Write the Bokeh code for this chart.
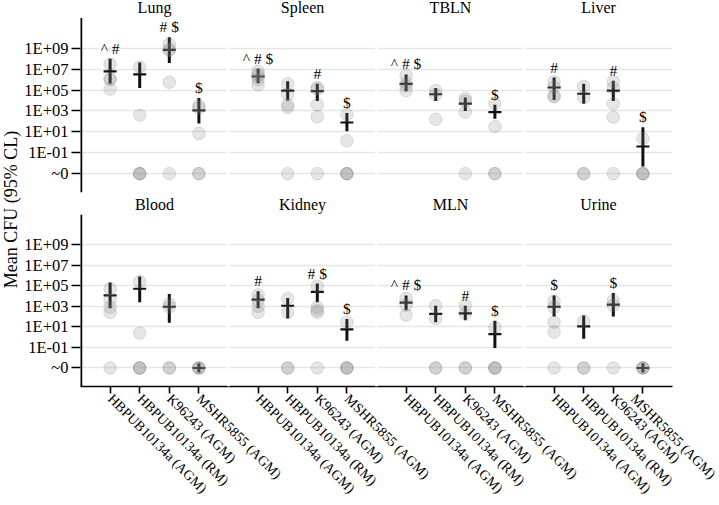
import math
from bokeh.plotting import figure
from bokeh.layouts import row, column
from bokeh.models import FixedTicker, Span
from bokeh.core.properties import value
from bokeh.embed import file_html
from bokeh.resources import INLINE

# ---------------- data (log10 CFU; None = ~0) ----------------
strains = ["HBPUB10134a (AGM)", "HBPUB10134a (RM)", "K96243 (AGM)", "MSHR5855 (AGM)"]
organs_top = ["Lung", "Spleen", "TBLN", "Liver"]
organs_bottom = ["Blood", "Kidney", "MLN", "Urine"]

points = {
    "Lung":   [[7.5, 6.1, 6.0, 5.1], [7.2, 2.6, None, None, None], [9.4, 8.9, 8.8, 5.75, None], [3.5, 3.3, 0.85, None, None]],
    "Spleen": [[6.8, 6.5, 6.3, 6.0, 5.5], [5.6, 4.6, 3.6, 3.35, None], [5.25, 5.1, 3.6, 2.45, None], [2.65, 0.15, None, None, None]],
    "TBLN":   [[6.4, 5.7, 5.4, 4.95], [4.95, 4.55, 2.2], [4.2, 3.95, 2.9, None], [3.7, 1.5, None, None]],
    "Liver":  [[5.8, 5.3, 4.45, 4.35], [5.35, 4.3, None, None], [5.8, 5.2, 3.7, 2.4, None], [0.35, None, None, None]],
    "Blood":  [[4.7, 3.6, 2.9, 2.4, None], [5.4, 0.4, None, None, None], [3.25, 2.95, None, None], [None, None, None]],
    "Kidney": [[4.1, 3.6, 3.0, 2.4], [3.75, 2.4, None, None], [4.95, 2.9, 2.6, 2.4, None], [1.45, None, None, None]],
    "MLN":    [[3.75, 3.1, 2.15], [3.05, 1.8, None, None], [3.05, 2.3, None, None], [0.95, None, None, None]],
    "Urine":  [[3.5, 2.9, 1.45, 0.5, None], [1.55, None, None], [3.55, 3.1, None], [None, None, None]],
}
means = {
    "Lung": [6.8, 6.5, 8.85, 3.05], "Spleen": [6.3, 4.95, 4.9, 1.9],
    "TBLN": [5.6, 4.6, 3.7, 2.9], "Liver": [5.25, 4.65, 4.95, -0.4],
    "Blood": [4.05, 4.7, 2.95, None], "Kidney": [3.65, 3.05, 4.4, 0.75],
    "MLN": [3.35, 2.25, 2.3, 0.3], "Urine": [2.95, 1.05, 3.15, None],
}
lows = {
    "Lung": [5.6, 5.2, 7.6, 1.8], "Spleen": [5.65, 4.0, 3.95, 1.05],
    "TBLN": [4.9, 3.95, 3.0, 2.25], "Liver": [4.05, 3.7, 3.95, -2.3],
    "Blood": [2.8, 3.4, 1.4, None], "Kidney": [2.8, 1.8, 3.4, -0.35],
    "MLN": [2.6, 1.45, 1.65, -1.05], "Urine": [2.0, -0.15, 2.0, None],
}
highs = {
    "Lung": [8.0, 7.65, 10.05, 4.25], "Spleen": [7.05, 5.85, 5.6, 2.8],
    "TBLN": [6.5, 5.2, 4.3, 3.6], "Liver": [6.2, 5.6, 5.9, 1.45],
    "Blood": [5.3, 5.9, 4.2, None], "Kidney": [4.45, 3.8, 5.2, 1.75],
    "MLN": [4.05, 3.05, 3.05, 1.6], "Urine": [4.05, 2.1, 4.3, None],
}
marks = {
    "Lung": ["^ #", "", "# $", "$"], "Spleen": ["^ # $", "", "#", "$"],
    "TBLN": ["^ # $", "", "", "$"], "Liver": ["#", "", "#", "$"],
    "Blood": ["", "", "", ""], "Kidney": ["#", "", "# $", "$"],
    "MLN": ["^ # $", "", "#", "$"], "Urine": ["$", "", "$", ""],
}
tick_exponents = [-1, 1, 3, 5, 7, 9]

# ---------------- styling / layout constants ----------------
ZERO_POS = -3.0          # where "~0" is drawn
Y0, Y1 = -4.8, 11.9      # extent of the visible y axis
PXU = 10.45              # pixels per log10 unit
FONT = "Liberation Serif"
ZERO_BAR = 0.45
LAB_W = 21
BORDER_L = 59
FRAME_W = 592
BORDER_R = 46


def make_panel(organs, show_x, frame_h, title_gap, border_bottom):
    ytop = Y0 + frame_h / PXU
    height = frame_h + border_bottom
    p = figure(width=BORDER_L + FRAME_W + BORDER_R, height=height,
               x_range=(0, 20), y_range=(Y0, ytop),
               output_backend="svg", toolbar_location=None,
               min_border_left=BORDER_L, min_border_right=BORDER_R,
               min_border_top=0, min_border_bottom=border_bottom)
    p.outline_line_color = None
    p.background_fill_color = "white"
    p.xgrid.visible = False
    p.ygrid.grid_line_color = "#e6e6e6"
    p.ygrid.grid_line_width = 1.3

    ticks = [ZERO_POS] + tick_exponents
    p.yaxis.ticker = FixedTicker(ticks=ticks)
    ov = {ZERO_POS: "~0"}
    for e in tick_exponents:
        ov[e] = "1E%+03d" % e
    p.yaxis.major_label_overrides = ov
    p.yaxis.axis_line_color = None
    p.yaxis.minor_tick_line_color = None
    p.yaxis.major_tick_in = 0
    p.yaxis.major_tick_out = 9
    p.yaxis.major_tick_line_width = 1.6
    p.yaxis.major_label_text_font = FONT
    p.yaxis.major_label_text_font_size = "16.5px"
    p.yaxis.major_label_text_color = "black"
    p.yaxis.major_label_standoff = 3

    xpos = [g * 5 + j + 1 for g in range(len(organs)) for j in range(len(strains))]
    if show_x:
        p.xaxis.ticker = FixedTicker(ticks=xpos)
        p.xaxis.major_label_overrides = {x: strains[i % 4] for i, x in enumerate(xpos)}
        p.xaxis.major_label_orientation = -math.pi / 4
        p.xaxis.minor_tick_line_color = None
        p.xaxis.major_tick_in = 0
        p.xaxis.major_tick_out = 7
        p.xaxis.axis_line_width = 1.6
        p.xaxis.major_tick_line_width = 1.6
        p.xaxis.major_label_text_font = FONT
        p.xaxis.major_label_text_font_size = "14px"
        p.xaxis.major_label_text_color = "black"
        p.xaxis.major_label_standoff = 3
    else:
        p.xaxis.visible = False

    # small breaks in the grid between facets
    for b in range(1, len(organs)):
        p.add_layout(Span(location=b * 5, dimension="height", line_color="white", line_width=3))

    # left axis line (only over the panel's value range)
    p.segment(x0=[0], y0=[Y0], x1=[0], y1=[Y1], line_color="black", line_width=3.5)

    px, py = [], []
    bx, blo, bhi = [], [], []
    mx, my = [], []
    tx, ty, tt = [], [], []
    hx, hy, ht = [], [], []
    for g, org in enumerate(organs):
        hx.append(g * 5 + 2.5)
        hy.append(Y1 + title_gap / PXU)
        ht.append(org)
        for j in range(len(strains)):
            x = g * 5 + j + 1
            for v in points[org][j]:
                px.append(x)
                py.append(ZERO_POS if v is None else v)
            m = means[org][j]
            if m is None:
                mx.append(x); my.append(ZERO_POS)
                bx.append(x); blo.append(ZERO_POS - ZERO_BAR); bhi.append(ZERO_POS + ZERO_BAR)
            else:
                mx.append(x); my.append(m)
                bx.append(x); blo.append(lows[org][j]); bhi.append(highs[org][j])
                if marks[org][j]:
                    tx.append(x); ty.append(highs[org][j] + 2.0 / PXU); tt.append(marks[org][j])

    p.segment(x0=bx, y0=blo, x1=bx, y1=bhi, line_color="#111111", line_width=3)
    p.scatter(x=mx, y=my, marker="dash", size=13, line_color="#111111", line_width=2.2)
    p.scatter(x=px, y=py, marker="circle", size=12.5, fill_color="#808080", fill_alpha=0.2,
              line_color="#808080", line_alpha=0.25, line_width=1)
    p.text(x=tx, y=ty, text=tt, text_align="center", text_baseline="bottom",
           text_font=value(FONT), text_font_size="15.5px", text_color="black")
    p.text(x=hx, y=hy, text=ht, text_align="center", text_baseline="middle",
           text_font=value(FONT), text_font_size="16px", text_color="black")
    return p


p1 = make_panel(organs_top, False, 192, 10, 3)
p2 = make_panel(organs_bottom, True, 194, 10, 115)

total_h = p1.height + p2.height
lab = figure(width=LAB_W, height=total_h, x_range=(0, 1), y_range=(0, 1),
             x_axis_location=None, y_axis_location=None,
             output_backend="svg", toolbar_location=None, min_border=0)
lab.outline_line_color = None
lab.xgrid.visible = False
lab.ygrid.visible = False
lab.text(x=[0.5], y=[1 - 209 / total_h], text=["Mean CFU (95% CL)"], angle=math.pi / 2,
         text_align="center", text_baseline="middle",
         text_font=value(FONT), text_font_size="18px", text_color="black")

layout = row(lab, column(p1, p2))
open("out.html", "w").write(file_html(layout, INLINE))
